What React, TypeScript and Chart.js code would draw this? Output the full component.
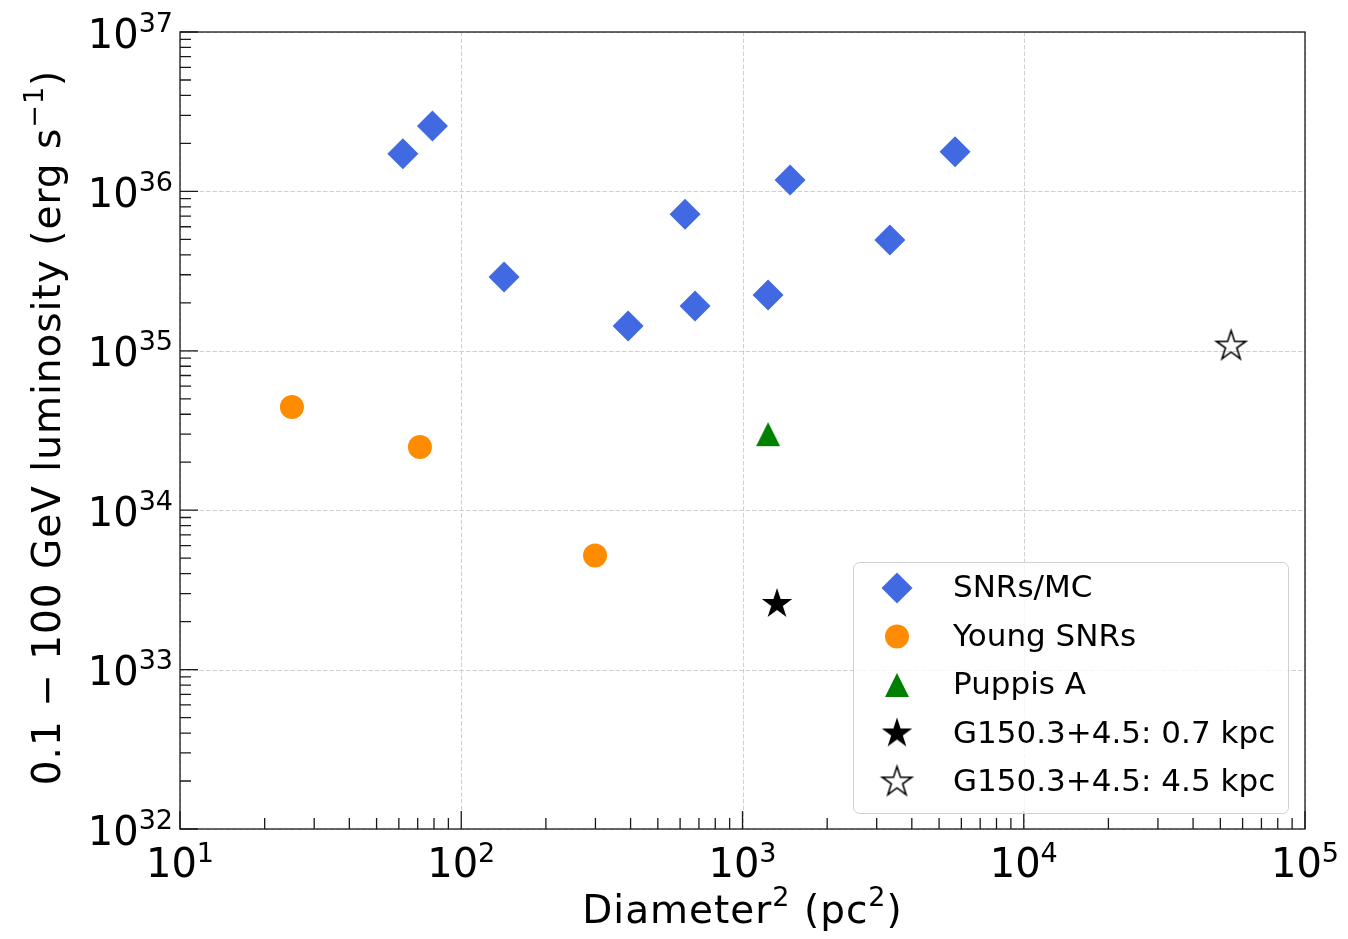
import React, { useEffect, useRef } from "react";
import { Chart, registerables } from "chart.js";
Chart.register(...registerables);

// ---- data ----
const snrMcX = [62, 79, 142, 392, 625, 678, 1233, 1476, 3342, 5698];
const snrMcY = [1.72e36, 2.57e36, 2.9e35, 1.43e35, 7.2e35, 1.91e35, 2.24e35, 1.18e36, 4.96e35, 1.77e36];
const youngX = [25, 71.3, 299];
const youngY = [4.44e34, 2.49e34, 5.2e33];
const puppisX = [1233];
const puppisY = [3.0e34];
const g07X = [1327];
const g07Y = [2.58e33];
const g45X = [54600];
const g45Y = [1.07e35];
const xTickExps = [1, 2, 3, 4, 5];
const yTickExps = [32, 33, 34, 35, 36, 37];
const seriesLabels = ["SNRs/MC", "Young SNRs", "Puppis A", "G150.3+4.5: 0.7 kpc", "G150.3+4.5: 4.5 kpc"];
const xTitle = [{ t: "Diameter", sup: false }, { t: "2", sup: true }, { t: " (pc", sup: false }, { t: "2", sup: true }, { t: ")", sup: false }];
const yTitle = [{ t: "0.1 \u2212 100 GeV luminosity (erg s", sup: false }, { t: "\u22121", sup: true }, { t: ")", sup: false }];

const FONT = "'DejaVu Sans', sans-serif";

function makeStar(fill: boolean, R: number) {
  const pad = 3;
  const size = Math.ceil(2 * R + 2 * pad);
  const c = document.createElement("canvas");
  c.width = size;
  c.height = size;
  const ctx = c.getContext("2d")!;
  const cx = size / 2, cy = size / 2;
  const r = R * 0.381966;
  ctx.beginPath();
  for (let i = 0; i < 10; i++) {
    const a = -Math.PI / 2 + (i * Math.PI) / 5;
    const rr = i % 2 === 0 ? R : r;
    ctx.lineTo(cx + rr * Math.cos(a), cy + rr * Math.sin(a));
  }
  ctx.closePath();
  ctx.lineJoin = "miter";
  if (fill) {
    ctx.fillStyle = "#000";
    ctx.fill();
  } else {
    ctx.strokeStyle = "#000";
    ctx.lineWidth = 1.6;
    ctx.stroke();
  }
  return c;
}

function makeTriangle(h: number, color: string) {
  const pad = 2;
  const size = Math.ceil(2 * h + 2 * pad);
  const c = document.createElement("canvas");
  c.width = size;
  c.height = size;
  const ctx = c.getContext("2d")!;
  const cx = size / 2, cy = size / 2;
  ctx.beginPath();
  ctx.moveTo(cx, cy - h);
  ctx.lineTo(cx - h, cy + h);
  ctx.lineTo(cx + h, cy + h);
  ctx.closePath();
  ctx.fillStyle = color;
  ctx.fill();
  return c;
}

type Piece = { t: string; sup: boolean };

function drawPieces(ctx: CanvasRenderingContext2D, pieces: Piece[], x: number, base: number, main: number, sup: number, rise: number, align: "center" | "right" | "left", spacing = 0) {
  (ctx as any).letterSpacing = `${spacing}px`;
  const widths = pieces.map((p) => {
    ctx.font = `${p.sup ? sup : main}px ${FONT}`;
    return ctx.measureText(p.t).width;
  });
  const total = widths.reduce((a, b) => a + b, 0);
  let cx = align === "center" ? x - total / 2 : align === "right" ? x - total : x;
  ctx.textAlign = "left";
  ctx.textBaseline = "alphabetic";
  pieces.forEach((p, i) => {
    ctx.font = `${p.sup ? sup : main}px ${FONT}`;
    ctx.fillText(p.t, cx, p.sup ? base - rise : base);
    cx += widths[i];
  });
  (ctx as any).letterSpacing = "0px";
}

export default function App() {
  const ref = useRef<HTMLCanvasElement>(null);
  useEffect(() => {
    const canvas = ref.current!;
    const starFilled = makeStar(true, 16);
    const starOpen = makeStar(false, 15.5);
    const tri = makeTriangle(12, "#008000");

    const gridPlugin = {
      id: "gridPlugin",
      beforeDatasetsDraw(chart: any) {
        const { ctx, chartArea: a, scales } = chart;
        ctx.save();
        ctx.strokeStyle = "#cfcfcf";
        ctx.lineWidth = 1;
        ctx.setLineDash([4.5, 2]);
        xTickExps.forEach((e) => {
          const px = Math.round(scales.x.getPixelForValue(Math.pow(10, e))) + 0.5;
          ctx.beginPath();
          ctx.moveTo(px, a.top);
          ctx.lineTo(px, a.bottom);
          ctx.stroke();
        });
        yTickExps.forEach((e) => {
          const py = Math.round(scales.y.getPixelForValue(Math.pow(10, e))) + 0.5;
          ctx.beginPath();
          ctx.moveTo(a.left, py);
          ctx.lineTo(a.right, py);
          ctx.stroke();
        });
        ctx.restore();
      },
      afterDraw(chart: any) {
        const { ctx, chartArea: a, scales } = chart;
        ctx.save();
        ctx.strokeStyle = "#1a1a1a";
        ctx.lineWidth = 1.3;
        // frame
        ctx.strokeRect(a.left, a.top, a.right - a.left, a.bottom - a.top);
        // ticks
        ctx.beginPath();
        for (let i = 0; i < xTickExps.length; i++) {
          const e = xTickExps[i];
          const px = scales.x.getPixelForValue(Math.pow(10, e));
          ctx.moveTo(px, a.bottom);
          ctx.lineTo(px, a.bottom - 18);
          if (i < xTickExps.length - 1) {
            for (let k = 2; k <= 9; k++) {
              const mx = scales.x.getPixelForValue(k * Math.pow(10, e));
              ctx.moveTo(mx, a.bottom);
              ctx.lineTo(mx, a.bottom - 11);
            }
          }
        }
        for (let i = 0; i < yTickExps.length; i++) {
          const e = yTickExps[i];
          const py = scales.y.getPixelForValue(Math.pow(10, e));
          ctx.moveTo(a.left, py);
          ctx.lineTo(a.left + 18, py);
          if (i < yTickExps.length - 1) {
            for (let k = 2; k <= 9; k++) {
              const my = scales.y.getPixelForValue(k * Math.pow(10, e));
              ctx.moveTo(a.left, my);
              ctx.lineTo(a.left + 11, my);
            }
          }
        }
        ctx.stroke();
        // tick labels
        ctx.fillStyle = "#000";
        xTickExps.forEach((e) => {
          const px = scales.x.getPixelForValue(Math.pow(10, e));
          drawPieces(ctx, [{ t: "10", sup: false }, { t: String(e), sup: true }], px, a.bottom + 48, 40, 27, 15, "center");
        });
        yTickExps.forEach((e) => {
          const py = scales.y.getPixelForValue(Math.pow(10, e));
          drawPieces(ctx, [{ t: "10", sup: false }, { t: String(e), sup: true }], a.left - 7, py + 15.5, 40, 27, 16, "right");
        });
        // axis titles
        drawPieces(ctx, xTitle, (a.left + a.right) / 2, 923, 39, 27, 17, "center", 1.0);
        ctx.save();
        ctx.translate(60, (a.top + a.bottom) / 2 - 3);
        ctx.rotate(-Math.PI / 2);
        drawPieces(ctx, yTitle, 0, 0, 39, 27, 17, "center", 1.0);
        ctx.restore();

        // legend
        const lx0 = a.right - 17, ly1 = a.bottom - 16;
        const lw = 435, lh = 251;
        const bx = lx0 - lw, by = ly1 - lh;
        ctx.beginPath();
        (ctx as any).roundRect(bx + 0.5, by + 0.5, lw, lh, 6);
        ctx.fillStyle = "rgba(255,255,255,0.8)";
        ctx.fill();
        ctx.strokeStyle = "#d0d0d0";
        ctx.lineWidth = 1;
        ctx.stroke();
        const mx = bx + 44;
        const tx = bx + 100;
        chart.data.datasets.forEach((ds: any, i: number) => {
          const cy = by + 26 + i * 48.5;
          if (ds.pointStyle === "rectRot") {
            ctx.beginPath();
            const r = ds.pointRadius;
            ctx.moveTo(mx - r, cy);
            ctx.lineTo(mx, cy - r);
            ctx.lineTo(mx + r, cy);
            ctx.lineTo(mx, cy + r);
            ctx.closePath();
            ctx.fillStyle = ds.backgroundColor;
            ctx.fill();
          } else if (ds.pointStyle === "circle") {
            ctx.beginPath();
            ctx.arc(mx, cy, ds.pointRadius, 0, Math.PI * 2);
            ctx.fillStyle = ds.backgroundColor;
            ctx.fill();
          } else {
            const img = ds.pointStyle as HTMLCanvasElement;
            ctx.drawImage(img, mx - img.width / 2, cy - img.height / 2);
          }
          ctx.fillStyle = "#000";
          ctx.font = `31px ${FONT}`;
          ctx.textAlign = "left";
          ctx.textBaseline = "middle";
          ctx.fillText(ds.label, tx, cy + 1);
        });
        ctx.restore();
      },
    };

    const chart = new Chart(canvas, {
      type: "scatter",
      data: {
        datasets: [
          {
            label: seriesLabels[0],
            data: snrMcX.map((x, i) => ({ x, y: snrMcY[i] })),
            pointStyle: "rectRot",
            pointRadius: 15.5,
            backgroundColor: "#4169E1",
            borderWidth: 0,
          },
          {
            label: seriesLabels[1],
            data: youngX.map((x, i) => ({ x, y: youngY[i] })),
            pointStyle: "circle",
            pointRadius: 12,
            backgroundColor: "#FF8C00",
            borderWidth: 0,
          },
          {
            label: seriesLabels[2],
            data: puppisX.map((x, i) => ({ x, y: puppisY[i] })),
            pointStyle: tri as any,
            pointRadius: 12,
            backgroundColor: "#008000",
            borderWidth: 0,
          },
          {
            label: seriesLabels[3],
            data: g07X.map((x, i) => ({ x, y: g07Y[i] })),
            pointStyle: starFilled as any,
            pointRadius: 16,
            backgroundColor: "#000",
            borderWidth: 0,
          },
          {
            label: seriesLabels[4],
            data: g45X.map((x, i) => ({ x, y: g45Y[i] })),
            pointStyle: starOpen as any,
            pointRadius: 16,
            backgroundColor: "#000",
            borderWidth: 0,
          },
        ],
      },
      options: {
        animation: false,
        responsive: false,
        devicePixelRatio: 1,
        events: [],
        layout: { padding: { left: 180, right: 43, top: 32, bottom: 110 } },
        scales: {
          x: { type: "logarithmic", min: 10, max: 1e5, display: false },
          y: { type: "logarithmic", min: 1e32, max: 1e37, display: false },
        },
        plugins: { legend: { display: false }, tooltip: { enabled: false } },
      },
      plugins: [gridPlugin],
    } as any);
    return () => chart.destroy();
  }, []);
  return (
    <div style={{ position: "absolute", left: 0, top: 0, width: 1348, height: 939, background: "#fff" }}>
      <canvas ref={ref} width={1348} height={939} style={{ width: 1348, height: 939, display: "block" }} />
    </div>
  );
}
